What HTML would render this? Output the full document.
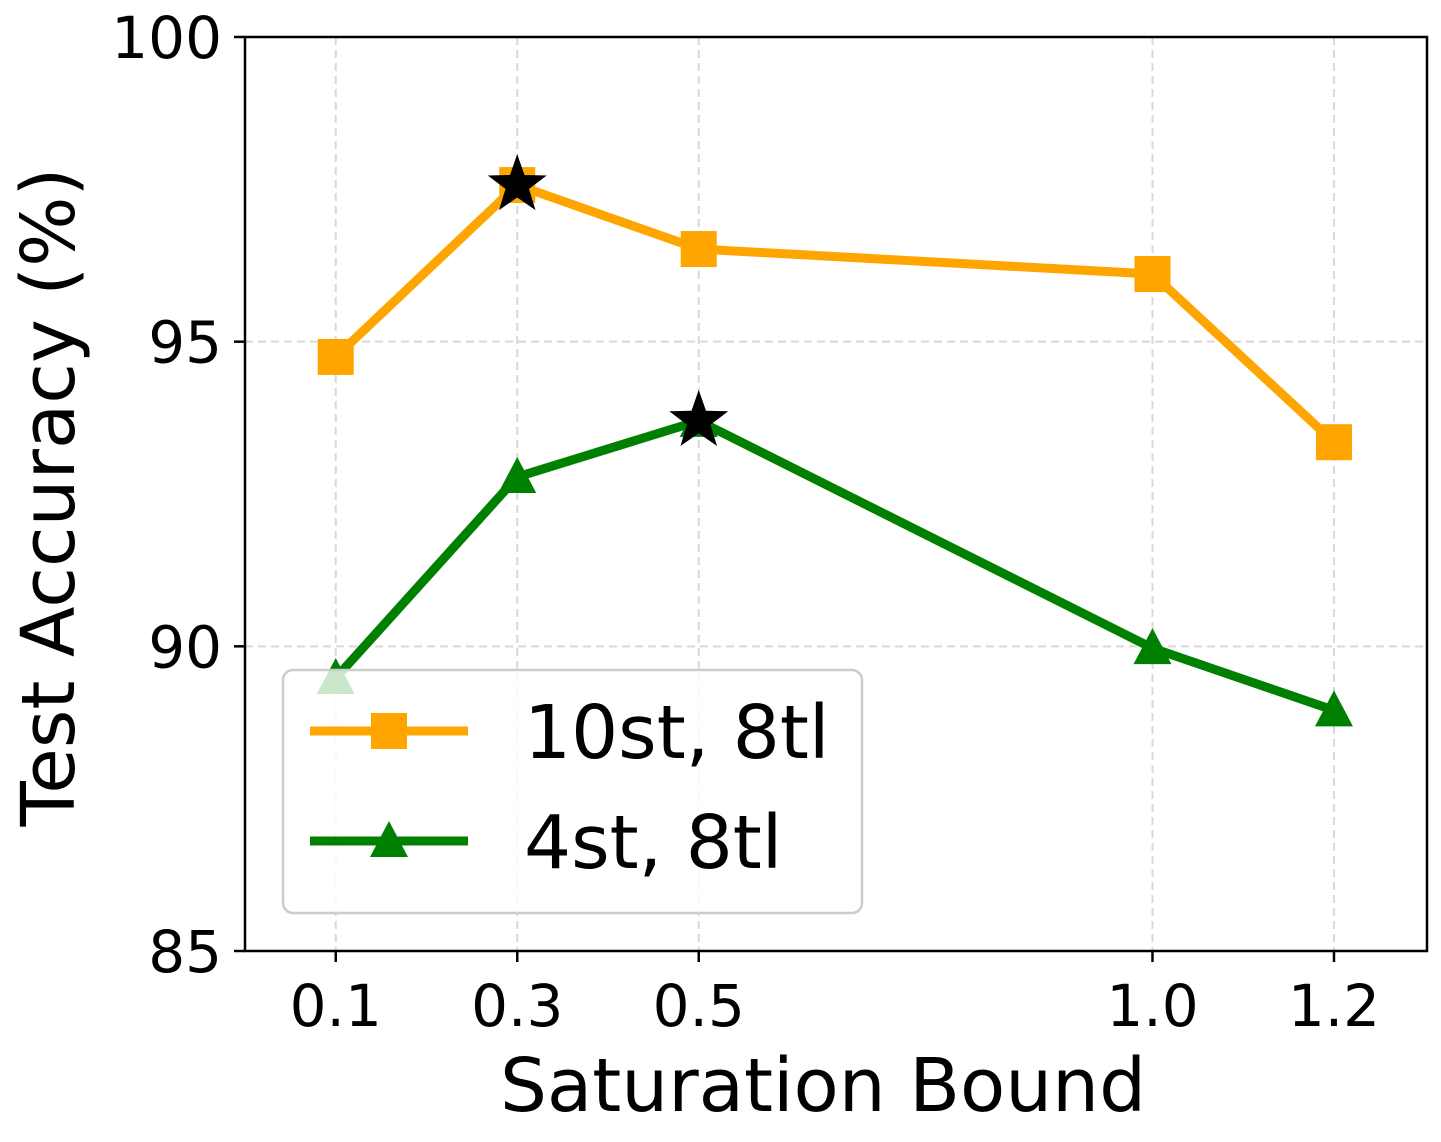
<!DOCTYPE html>
<html><head><meta charset="utf-8"><style>
body{margin:0;background:#fff}
svg{display:block;font-family:"DejaVu Sans","Liberation Sans",sans-serif}
</style></head><body>
<svg id="chart" width="1441" height="1142" viewBox="0 0 1441 1142">
<g id="grid"></g>
<g id="series"></g>
<rect x="245" y="37" width="1182" height="914" fill="none" stroke="#000" stroke-width="2.5"/>
<g id="axes"></g>
<text x="823" y="1111" font-size="74" text-anchor="middle">Saturation Bound</text>
<text transform="translate(74,497) rotate(-90)" font-size="74" text-anchor="middle">Test Accuracy (%)</text>
<g>
<rect x="283" y="670" width="579" height="243" rx="10" fill="#fff" fill-opacity="0.8" stroke="#ccc" stroke-width="2.5"/>
<g>
<line x1="310" y1="731" x2="468" y2="731" stroke="#FFA500" stroke-width="9"/>
<rect x="371" y="713" width="36" height="36" fill="#FFA500"/>
<text x="524" y="758" font-size="74">10st, 8tl</text></g>
<g>
<line x1="310" y1="841" x2="468" y2="841" stroke="#008000" stroke-width="9"/>
<polygon points="389,821 408,857 370,857" fill="#008000"/>
<text x="524" y="868" font-size="74">4st, 8tl</text></g>
</g>
</svg>
<script>
const xTicks=[0.1,0.3,0.5,1.0,1.2];
const xTickLabels=["0.1","0.3","0.5","1.0","1.2"];
const yTicks=[85,90,95,100];
const yTickLabels=["85","90","95","100"];
const xs=[0.1,0.3,0.5,1.0,1.2];
const orange=[94.75,97.57,96.52,96.11,93.35];
const green=[89.48,92.78,93.70,89.97,88.95];
const orangeBest=1;
const greenBest=2;
const NS="http://www.w3.org/2000/svg";
const X=v=>245+(v-0)/1.3025*1182;
const Y=v=>951-(v-85)/15*914;
function mk(tag,attrs,parent){const e=document.createElementNS(NS,tag);for(const k in attrs)e.setAttribute(k,attrs[k]);parent.appendChild(e);return e;}
const grid=document.getElementById('grid'),axes=document.getElementById('axes'),ser=document.getElementById('series');
xTicks.forEach((t,i)=>{
 const g=mk('line',{x1:X(t),x2:X(t),y1:37,y2:951,stroke:'#d9d9d9','stroke-width':2,'stroke-dasharray':'8,5'},grid);
 
 
 const tk=mk('line',{x1:X(t),x2:X(t),y1:951,y2:962,stroke:'#000','stroke-width':2.5},axes);
 
 
 const tx=mk('text',{x:X(t),y:1026,'font-size':58,'text-anchor':'middle'},axes);
 tx.textContent=xTickLabels[i];
 
 
});
yTicks.forEach((t,i)=>{
 if(t>85&&t<100){const g=mk('line',{x1:245,x2:1427,y1:Y(t),y2:Y(t),stroke:'#d9d9d9','stroke-width':2,'stroke-dasharray':'8,5'},grid);
 
 }
 const tk=mk('line',{x1:234,x2:245,y1:Y(t),y2:Y(t),stroke:'#000','stroke-width':2.5},axes);
 
 
 const tx=mk('text',{x:222,y:Y(t)+21,'font-size':58,'text-anchor':'end'},axes);
 tx.textContent=yTickLabels[i];
 
 
});
function star(cx,cy,R){let p=[];for(let i=0;i<10;i++){const r=i%2?R*0.4:R;const a=-Math.PI/2+i*Math.PI/5;p.push((cx+r*Math.cos(a)).toFixed(1)+','+(cy+r*Math.sin(a)).toFixed(1));}return p.join(' ');}
function drawSeries(vals,color,shape,best,name){
 const pl=mk('polyline',{points:xs.map((x,i)=>X(x)+','+Y(vals[i])).join(' '),fill:'none',stroke:color,'stroke-width':9,'stroke-linejoin':'round'},ser);
 
 
 xs.forEach((x,i)=>{
  const cx=X(x),cy=Y(vals[i]);let m;
  if(shape==='sq')m=mk('rect',{x:cx-18,y:cy-18,width:36,height:36,fill:color},ser);
  else m=mk('polygon',{points:`${cx},${cy-20} ${cx+19},${cy+16} ${cx-19},${cy+16}`,fill:color},ser);
  
  
  if(i===best){const s=mk('polygon',{points:star(cx,cy,31),fill:'#000'},ser);
   
   }
 });
}
drawSeries(orange,'#FFA500','sq',orangeBest,'series-10st');
drawSeries(green,'#008000','tri',greenBest,'series-4st');
</script>
</body></html>
